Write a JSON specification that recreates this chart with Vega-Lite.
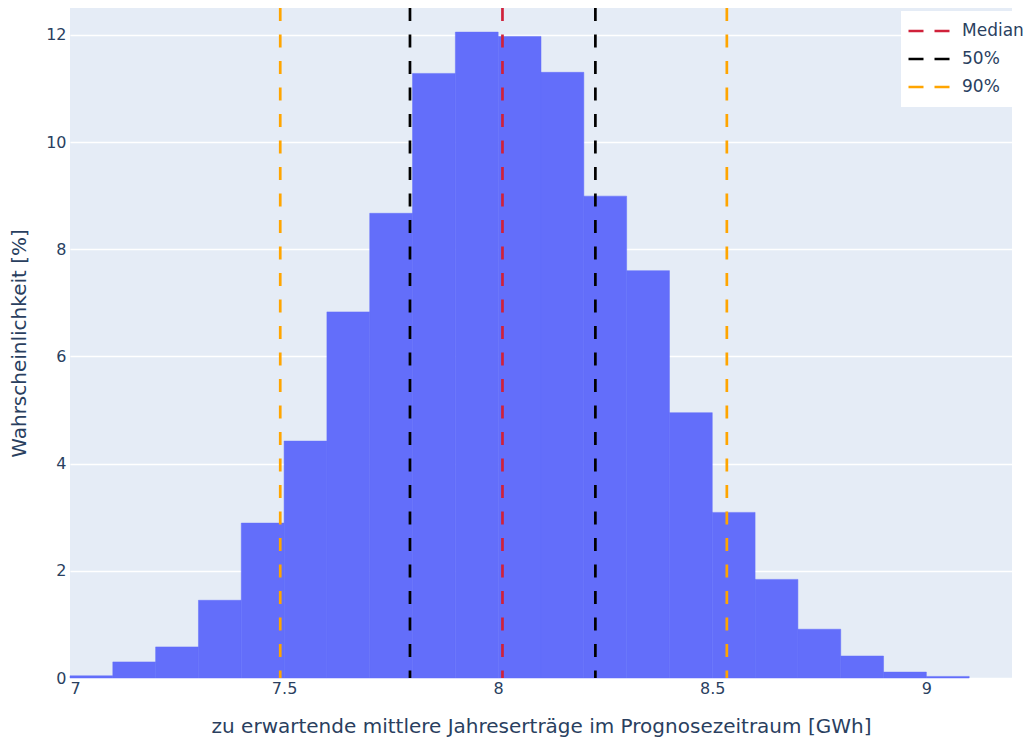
{
  "$schema": "https://vega.github.io/schema/vega-lite/v6.json",
  "autosize": {"type": "none"},
  "width": 942,
  "height": 670,
  "padding": {"left": 70, "top": 8, "right": 14, "bottom": 60},
  "background": "white",
  "config": {
    "font": "DejaVu Sans",
    "view": {"fill": "#E5ECF6", "stroke": null},
    "axis": {
      "domain": false,
      "ticks": false,
      "labelColor": "#2a3f5f",
      "titleColor": "#2a3f5f",
      "labelFontSize": 16,
      "titleFontSize": 20,
      "titleFontWeight": "normal",
      "labelFont": "DejaVu Sans",
      "titleFont": "DejaVu Sans",
      "gridColor": "white",
      "gridWidth": 1.3,
      "gridOpacity": 1
    },
    "legend": {
      "labelFont": "DejaVu Sans"
    }
  },
  "datasets": {
    "bins": [
      {"start": 7.0, "end": 7.1, "pct": 0.04},
      {"start": 7.1, "end": 7.2, "pct": 0.30},
      {"start": 7.2, "end": 7.3, "pct": 0.58},
      {"start": 7.3, "end": 7.4, "pct": 1.45},
      {"start": 7.4, "end": 7.5, "pct": 2.89},
      {"start": 7.5, "end": 7.6, "pct": 4.42},
      {"start": 7.6, "end": 7.7, "pct": 6.83},
      {"start": 7.7, "end": 7.8, "pct": 8.67},
      {"start": 7.8, "end": 7.9, "pct": 11.28},
      {"start": 7.9, "end": 8.0, "pct": 12.05},
      {"start": 8.0, "end": 8.1, "pct": 11.97},
      {"start": 8.1, "end": 8.2, "pct": 11.30},
      {"start": 8.2, "end": 8.3, "pct": 8.99},
      {"start": 8.3, "end": 8.4, "pct": 7.60},
      {"start": 8.4, "end": 8.5, "pct": 4.95},
      {"start": 8.5, "end": 8.6, "pct": 3.09},
      {"start": 8.6, "end": 8.7, "pct": 1.84},
      {"start": 8.7, "end": 8.8, "pct": 0.91},
      {"start": 8.8, "end": 8.9, "pct": 0.41},
      {"start": 8.9, "end": 9.0, "pct": 0.11},
      {"start": 9.0, "end": 9.1, "pct": 0.03}
    ],
    "lines": [
      {"label": "Median", "value": 8.010},
      {"label": "50%", "value": 7.794},
      {"label": "50%", "value": 8.227},
      {"label": "90%", "value": 7.491},
      {"label": "90%", "value": 8.534}
    ]
  },
  "layer": [
    {
      "data": {"name": "bins"},
      "mark": {"type": "bar", "color": "#636EFA", "stroke": "#636EFA", "strokeWidth": 0.5, "opacity": 1},
      "encoding": {
        "x": {
          "field": "start",
          "type": "quantitative",
          "scale": {"domain": [7, 9.2], "nice": false, "zero": false},
          "axis": {
            "values": [7, 7.5, 8, 8.5, 9],
            "format": "~f",
            "grid": false,
            "labelPadding": 2,
            "titlePadding": 20,
            "title": "zu erwartende mittlere Jahreserträge im Prognosezeitraum [GWh]"
          }
        },
        "x2": {"field": "end"},
        "y": {
          "field": "pct",
          "type": "quantitative",
          "scale": {"domain": [0, 12.5], "nice": false},
          "axis": {
            "values": [0, 2, 4, 6, 8, 10, 12],
            "labelPadding": 4,
            "titlePadding": 16,
            "title": "Wahrscheinlichkeit [%]"
          }
        },
        "y2": {"datum": 0}
      }
    },
    {
      "data": {"name": "lines"},
      "mark": {"type": "rule", "strokeWidth": 2.7, "strokeDash": [13, 13.5]},
      "encoding": {
        "x": {"field": "value", "type": "quantitative"},
        "color": {
          "field": "label",
          "type": "nominal",
          "scale": {"domain": ["Median", "50%", "90%"], "range": ["#d0213a", "#000000", "#FFA500"]},
          "legend": {
            "title": null,
            "orient": "none",
            "legendX": 831,
            "legendY": 3,
            "fillColor": "white",
            "padding": 6,
            "symbolType": "stroke",
            "symbolSize": 1681,
            "symbolStrokeWidth": 2.7,
            "symbolDash": [15, 11],
            "labelFontSize": 17,
            "labelColor": "#2a3f5f",
            "labelOffset": 11,
            "clipHeight": 28,
            "rowPadding": 0
          }
        }
      }
    }
  ]
}
